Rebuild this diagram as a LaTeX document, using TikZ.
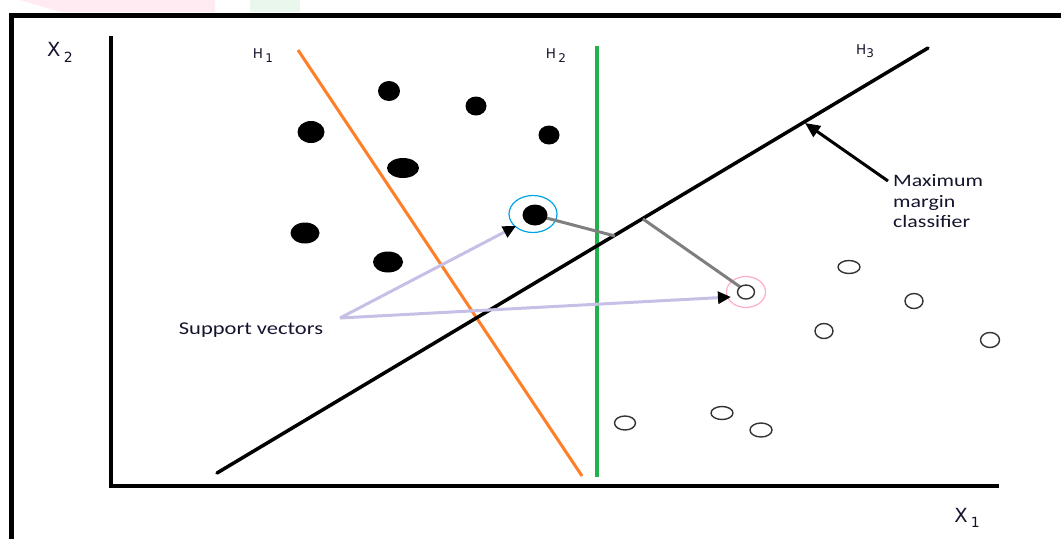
\documentclass[tikz,border=0pt]{standalone}
\usepackage{fontspec}
\setmainfont{Carlito}
\newfontfamily\axisfont{DejaVu Sans}
\usepackage{xcolor}
\usetikzlibrary{arrows.meta}
\usetikzlibrary{shapes.geometric}
\definecolor{myorange}{RGB}{255,127,39}
\definecolor{mygreen}{RGB}{34,177,76}
\definecolor{mylavender}{RGB}{200,191,231}
\definecolor{mycyan}{RGB}{0,162,232}
\definecolor{mypink}{RGB}{255,174,201}
\definecolor{mygray}{RGB}{127,127,127}
\definecolor{mytext}{RGB}{20,20,45}

\tikzset{
  dotfull/.style={ellipse, fill=black, inner sep=0pt},
  dotopen/.style={ellipse, draw=black!80, line width=1.4pt, fill=white, inner sep=0pt},
  axislabel/.style={font=\axisfont, text=mytext, inner sep=0pt},
  plainlabel/.style={text=mytext, inner sep=0pt},
}

\begin{document}
\begin{tikzpicture}[x=1pt,y=-1pt]
  \useasboundingbox (0,0) rectangle (1061,539);
  % faint watermark at the top
  \fill[mypink!25] (20,0) -- (215,0) -- (215,12) -- (60,12) -- cycle;
  \fill[mygreen!10] (250,0) rectangle (300,12);

  % frame and axes
  \draw[line width=5pt] (1061,15) -- (11,15) -- (11,539);
  \draw[line width=3.5pt] (111,36) -- (111,486) -- (999,486);
  \node[axislabel] (x2) at (60,52) {\fontsize{19.5}{19}\selectfont X\,\raisebox{-6pt}{\fontsize{14}{14}\selectfont 2}};
  \node[axislabel] (x1) at (967,518) {\fontsize{19.5}{19}\selectfont X\,\raisebox{-5pt}{\fontsize{14}{14}\selectfont 1}};

  % hyperplanes
  \coordinate (h1a) at (298,50);
  \coordinate (h1b) at (582,476);
  \coordinate (h2a) at (597,46);
  \coordinate (h2b) at (597,477);
  \coordinate (h3a) at (217,473);
  \coordinate (h3b) at (928,48);
  \draw[myorange, line width=3pt] (h1a) -- (h1b);
  \draw[mygreen, line width=4pt] (h2a) -- (h2b);
  \draw[line width=3.5pt, line cap=round] (h3a) -- (h3b);
  \node[axislabel] (lh1) at (263,56) {\fontsize{13.5}{13}\selectfont H\,\raisebox{-4pt}{\fontsize{12}{12}\selectfont 1}};
  \node[axislabel] (lh2) at (556,56) {\fontsize{13.5}{13}\selectfont H\,\raisebox{-4pt}{\fontsize{12}{12}\selectfont 2}};
  \node[axislabel] (lh3) at (865,51) {\fontsize{13.5}{13}\selectfont H\raisebox{-3pt}{\fontsize{12}{12}\selectfont 3}};

  % class one
  \node[dotfull, minimum width=22pt, minimum height=20pt] (a1) at (389,91) {};
  \node[dotfull, minimum width=21pt, minimum height=19pt] (a2) at (476,106) {};
  \node[dotfull, minimum width=27pt, minimum height=22pt] (a3) at (311,132) {};
  \node[dotfull, minimum width=21pt, minimum height=19pt] (a4) at (549,135) {};
  \node[dotfull, minimum width=32pt, minimum height=20pt] (a5) at (403,168) {};
  \node[dotfull, minimum width=29pt, minimum height=21pt] (a6) at (305,233) {};
  \node[dotfull, minimum width=30pt, minimum height=21pt] (a7) at (388,262) {};

  % class two
  \node[dotopen, minimum width=22pt, minimum height=13pt] (b1) at (849,267) {};
  \node[dotopen, minimum width=18pt, minimum height=15pt] (b2) at (914,301) {};
  \node[dotopen, minimum width=18pt, minimum height=15pt] (b3) at (824,331) {};
  \node[dotopen, minimum width=19pt, minimum height=15pt] (b4) at (990,340) {};
  \node[dotopen, minimum width=21pt, minimum height=14pt] (b5) at (625,423) {};
  \node[dotopen, minimum width=22pt, minimum height=13pt] (b6) at (722,413) {};
  \node[dotopen, minimum width=22pt, minimum height=14pt] (b7) at (761,430) {};

  % support vectors and margins
  \node[ellipse, draw=mycyan, line width=1.2pt, minimum width=48pt, minimum height=37pt] (ring1) at (533,214) {};
  \node[ellipse, draw=mypink, line width=1.2pt, minimum width=39pt, minimum height=31pt] (ring2) at (746,292) {};
  \coordinate (m1) at (615,236);
  \coordinate (m2) at (643,219);
  \draw[mygray, line width=3pt] (535,215) -- (m1);
  \draw[mygray, line width=3pt] (m2) -- (746,291);
  \node[dotfull, minimum width=25pt, minimum height=21pt] (sv1) at (535,215) {};
  \node[dotopen, minimum width=17pt, minimum height=14pt] (sv2) at (746,292) {};

  \node[plainlabel] (svlabel) at (251,330) {\fontsize{18}{18}\selectfont\scalebox{1.25}[1]{Support vectors}};
  \coordinate (svfork) at (340,318);
  \coordinate (tip1) at (516,226);
  \coordinate (tip2) at (731,297);
  \draw[mylavender, line width=3pt, -{Triangle[black, length=13pt, width=12pt]}] (svfork) -- (tip1);
  \draw[mylavender, line width=3pt, -{Triangle[black, length=13pt, width=12pt]}] (svfork) -- (tip2);

  \node[plainlabel, anchor=north west] (mmc) at (893,172) {\fontsize{17.5}{20.5}\selectfont\scalebox{1.25}[1]{\begin{tabular}{@{}l@{}}Maximum\\margin\\classifier\end{tabular}}};
  \coordinate (mstart) at (888,181);
  \coordinate (mtip) at (805,123);
  \draw[line width=3pt, -{Triangle[length=15pt, width=13pt]}] (mstart) -- (mtip);
\end{tikzpicture}
\end{document}
